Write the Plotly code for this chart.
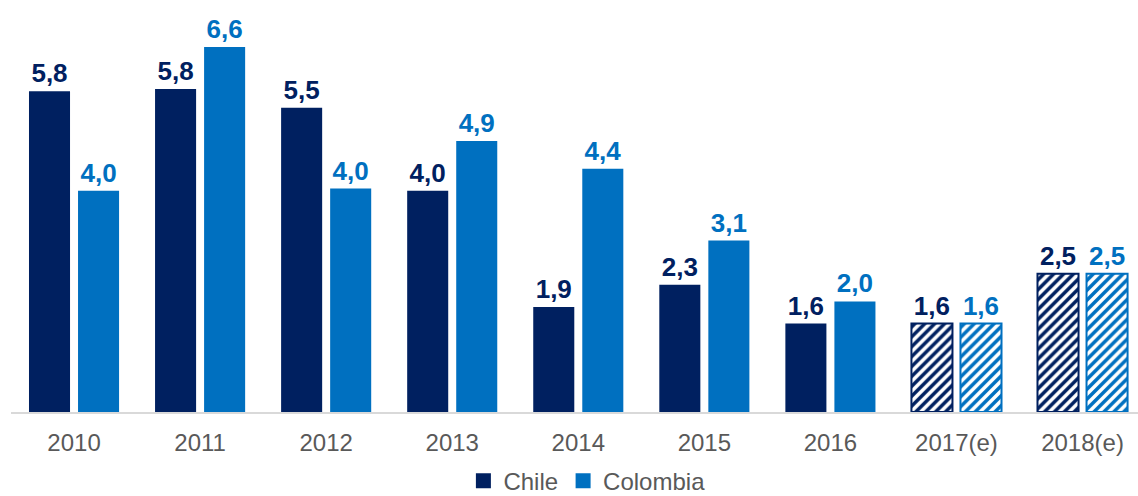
import plotly.graph_objects as go

years = ["2010", "2011", "2012", "2013", "2014", "2015", "2016", "2017(e)", "2018(e)"]
chile = [5.8, 5.84, 5.5, 4.0, 1.9, 2.3, 1.6, 1.6, 2.5]
colombia = [4.0, 6.6, 4.04, 4.9, 4.4, 3.1, 2.0, 1.6, 2.5]
estimated = [False, False, False, False, False, False, False, True, True]

NAVY = "#002060"
BLUE = "#0070C0"
FONT = "Liberation Sans, Arial"

def series(name, vals, color):
    shapes = ["/" if e else "" for e in estimated]
    return go.Bar(
        name=name, x=years, y=vals, showlegend=False,
        marker=dict(
            color=color,
            line=dict(color=color, width=[2 if e else 0 for e in estimated]),
            pattern=dict(shape=shapes, fgcolor=color, bgcolor="white",
                         size=7, solidity=0.5, fillmode="replace"),
        ),
        texttemplate="%{y:.1f}", textposition="outside", cliponaxis=False,
        textfont=dict(family=FONT, size=26, color=color, weight="bold"),
    )

def legend_item(name, color):
    return go.Scatter(name=name, x=[None], y=[None], mode="markers",
                      marker=dict(symbol="square", size=15, color=color),
                      showlegend=True)

fig = go.Figure([series("Chile", chile, NAVY), series("Colombia", colombia, BLUE),
                 legend_item("Chile", NAVY), legend_item("Colombia", BLUE)])
fig.update_layout(
    width=1138, height=496,
    margin=dict(l=11, r=0, t=0, b=84, autoexpand=False),
    barmode="group", bargap=0.222, bargroupgap=0.163,
    plot_bgcolor="white", paper_bgcolor="white",
    separators=",.",
    font=dict(family=FONT, color="#595959", size=24),
    showlegend=True,
    legend=dict(orientation="h", x=0.511, xanchor="center", yref="container", y=0.03,
                yanchor="middle", font=dict(size=24, color="#595959"),
                itemwidth=30, traceorder="normal", tracegroupgap=0),
    xaxis=dict(range=[-0.5, 8.44], showline=True, linecolor="#D9D9D9", linewidth=2,
               ticks="", ticklabelstandoff=8, tickfont=dict(size=24, color="#595959")),
    yaxis=dict(range=[0, 7.45], visible=False, showgrid=False),
)
fig.write_html("out.html")
